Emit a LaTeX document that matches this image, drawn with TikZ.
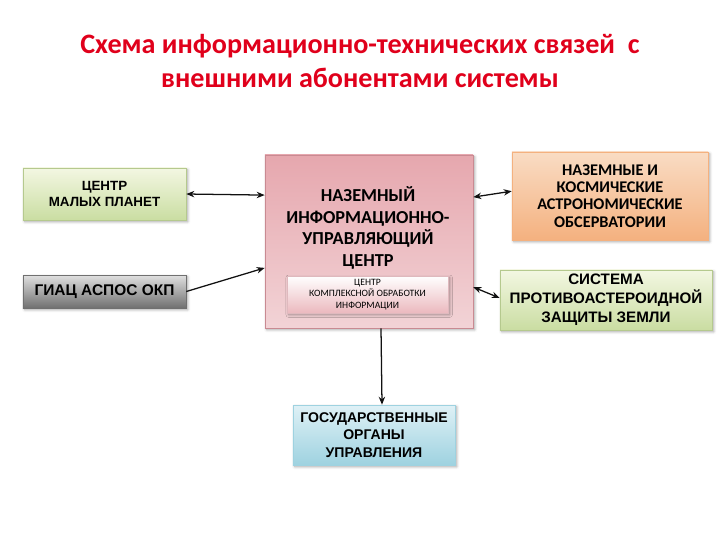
\documentclass[tikz,border=0pt]{standalone}
\usepackage{fontspec}
\setmainfont{Carlito}
\newfontfamily\arialf{Liberation Sans}
\usetikzlibrary{arrows.meta, positioning, shadows.blur}
\definecolor{titlered}{HTML}{E0001B}
\definecolor{greentop}{HTML}{F3F7E2}
\definecolor{greenbot}{HTML}{CADDA2}
\definecolor{greenedge}{HTML}{B5C98E}
\definecolor{greytop}{HTML}{E0E0E0}
\definecolor{greybot}{HTML}{707070}
\definecolor{pinktop}{HTML}{E6A7AE}
\definecolor{pinkbot}{HTML}{F2D3D6}
\definecolor{pinkedge}{HTML}{C98A92}
\definecolor{peachtop}{HTML}{F9DCC4}
\definecolor{peachbot}{HTML}{F4B17F}
\definecolor{bluetop}{HTML}{DFF1F6}
\definecolor{bluebot}{HTML}{9ED2E0}
\definecolor{linegrey}{HTML}{111111}
\tikzset{
  basebox/.style={rectangle, inner sep=2pt, align=center,
                  blur shadow={shadow blur steps=4, shadow xshift=1.2pt,
                               shadow yshift=-1.2pt, shadow opacity=35}},
  greenbox/.style={basebox, top color=greentop, bottom color=greenbot,
                   draw=greenedge, font=\arialf\bfseries\fontsize{9.5}{11.5}\selectfont},
  greybox/.style={basebox, top color=greytop, bottom color=greybot,
                  draw=greybot, font=\arialf\bfseries\fontsize{11}{12}\selectfont},
  pinkbox/.style={basebox, top color=pinktop, bottom color=pinkbot, draw=pinkedge},
  subbox/.style={basebox, top color=white, bottom color=pinktop!80, draw=pinkedge!60,
                 font=\fontsize{6.9}{8.2}\selectfont},
  peachbox/.style={basebox, top color=peachtop, bottom color=peachbot,
                   draw=peachbot, font=\bfseries\fontsize{11.6}{12.2}\selectfont},
  bluebox/.style={basebox, top color=bluetop, bottom color=bluebot,
                  draw=bluebot, font=\arialf\bfseries\fontsize{10}{12.3}\selectfont},
  link/.style={->, line width=0.9pt, >={Stealth[length=2mm,width=1.6mm]}, draw=linegrey},
  biglink/.style={<->, line width=0.9pt, >={Stealth[length=2mm,width=1.6mm]}, draw=linegrey},
}
\begin{document}
\begin{tikzpicture}[x=0.025cm, y=-0.025cm]
  \useasboundingbox (0,0) rectangle (720,540);

  % --- Title ---
  \node[font=\bfseries\fontsize{20}{24}\selectfont, text=titlered, align=center]
    (title) at (360,61) {Схема информационно-технических связей\ \ с\\внешними абонентами системы};

  % --- Left column ---
  \node[greenbox, minimum width=4.075cm, minimum height=1.3cm] (planets) at (104.5,194)
    {ЦЕНТР\\МАЛЫХ ПЛАНЕТ};
  \node[greybox, minimum width=4.075cm, minimum height=0.825cm] (giac) at (104.5,291.5)
    {ГИАЦ АСПОС ОКП};

  % --- Central block ---
  \node[pinkbox, minimum width=5.2cm, minimum height=4.325cm] (centre) at (369,241.5) {};
  \node[font=\bfseries\fontsize{13}{15.5}\selectfont, align=center] (centrelab) at (368,228)
    {НАЗЕМНЫЙ\\ИНФОРМАЦИОННО-\\УПРАВЛЯЮЩИЙ\\ЦЕНТР};
  \node[subbox, minimum width=4.025cm, minimum height=0.925cm] (proc) at (367.5,294.5)
    {ЦЕНТР\\КОМПЛЕКСНОЙ ОБРАБОТКИ\\ИНФОРМАЦИИ};

  % --- Right column ---
  \node[peachbox, minimum width=4.9cm, minimum height=2.2cm] (obs) at (610,196)
    {НАЗЕМНЫЕ И\\КОСМИЧЕСКИЕ\\АСТРОНОМИЧЕСКИЕ\\ОБСЕРВАТОРИИ};
  \node[greenbox, minimum width=5.3cm, minimum height=1.5cm,
        font=\arialf\bfseries\fontsize{10.8}{13.5}\selectfont] (defence) at (606,300)
    {СИСТЕМА\\ПРОТИВОАСТЕРОИДНОЙ\\ЗАЩИТЫ ЗЕМЛИ};

  % --- Bottom ---
  \node[bluebox, minimum width=4.05cm, minimum height=1.5cm] (gov) at (374,435)
    {ГОСУДАРСТВЕННЫЕ\\ОРГАНЫ\\УПРАВЛЕНИЯ};

  % --- Links ---
  \draw[biglink] (planets.east) -- ([yshift=1.16cm]centre.west);
  \draw[link] (giac.east) -- ([yshift=-0.66cm]centre.west);
  \draw[biglink] ([yshift=1.11cm]centre.east) -- ([yshift=0.12cm]obs.west);
  \draw[biglink] ([yshift=-1.14cm]centre.east) -- ([yshift=0.05cm]defence.west);
  \draw[link] ([xshift=0.3cm]centre.south) -- ([xshift=0.2cm]gov.north);
\end{tikzpicture}
\end{document}
